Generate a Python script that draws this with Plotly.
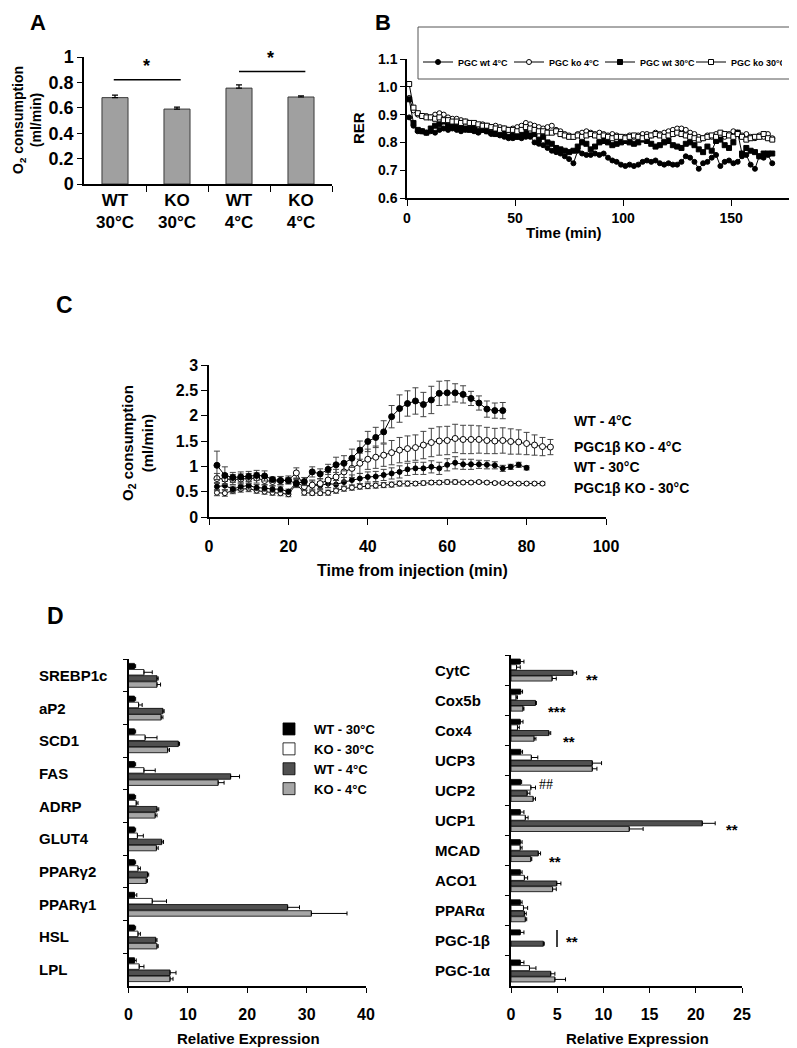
import plotly.graph_objects as go

# page is rendered with an 8px body margin: figure covers page px 8..797 / 8..1048
OFF = 8
FW, FH = 797 - OFF, 1048 - OFF
def fx(px): return (px - OFF) / FW
def fy(py): return 1 - (py - OFF) / FH

FONT = "Liberation Sans, Arial, sans-serif"

# ---------------- Panel A data ----------------
A_groups = ["WT<br>30°C", "KO<br>30°C", "WT<br>4°C", "KO<br>4°C"]
A_values = [0.68, 0.59, 0.755, 0.685]
A_errors = [0.02, 0.015, 0.025, 0.01]

# ---------------- Panel B data ----------------
B_time = list(range(1, 170, 2))
B_wt4 = [0.89, 0.86, 0.84, 0.84, 0.835, 0.84, 0.835, 0.845, 0.85, 0.845,
         0.85, 0.845, 0.84, 0.845, 0.85, 0.84, 0.835, 0.845, 0.84, 0.83,
         0.835, 0.825, 0.82, 0.815, 0.815, 0.82, 0.815, 0.82, 0.82, 0.80,
         0.795, 0.79, 0.78, 0.77, 0.765, 0.76, 0.75, 0.74, 0.725, 0.77,
         0.76, 0.755, 0.755, 0.76, 0.755, 0.76, 0.745, 0.735, 0.73, 0.72,
         0.715, 0.72, 0.715, 0.72, 0.73, 0.735, 0.73, 0.735, 0.725, 0.72,
         0.725, 0.72, 0.72, 0.73, 0.75, 0.745, 0.73, 0.705, 0.725, 0.73,
         0.745, 0.755, 0.715, 0.73, 0.735, 0.725, 0.73, 0.75, 0.755, 0.72,
         0.705, 0.75, 0.745, 0.755, 0.725]
B_ko4 = [0.96, 0.915, 0.90, 0.895, 0.895, 0.89, 0.90, 0.905, 0.90, 0.89,
         0.885, 0.885, 0.88, 0.875, 0.87, 0.865, 0.86, 0.865, 0.86, 0.855,
         0.86, 0.855, 0.85, 0.845, 0.85, 0.855, 0.86, 0.87, 0.865, 0.86,
         0.855, 0.85, 0.855, 0.86, 0.845, 0.84, 0.83, 0.825, 0.82, 0.83,
         0.835, 0.84, 0.835, 0.83, 0.835, 0.83, 0.825, 0.83, 0.825, 0.82,
         0.82, 0.825, 0.82, 0.825, 0.83, 0.83, 0.825, 0.835, 0.83, 0.835,
         0.84, 0.845, 0.85, 0.85, 0.845, 0.835, 0.83, 0.82, 0.815, 0.825,
         0.82, 0.83, 0.825, 0.82, 0.83, 0.84, 0.835, 0.825, 0.83, 0.82,
         0.815, 0.825, 0.82, 0.83, 0.815]
B_wt30 = [0.955, 0.87, 0.845, 0.84, 0.835, 0.85, 0.86, 0.865, 0.875, 0.86,
          0.865, 0.855, 0.855, 0.85, 0.845, 0.85, 0.84, 0.845, 0.84, 0.835,
          0.83, 0.835, 0.83, 0.82, 0.825, 0.82, 0.83, 0.835, 0.825, 0.83,
          0.81, 0.82, 0.80, 0.795, 0.78, 0.775, 0.77, 0.765, 0.77, 0.785,
          0.80, 0.795, 0.775, 0.785, 0.80, 0.805, 0.80, 0.79, 0.795, 0.80,
          0.805, 0.80, 0.795, 0.80, 0.81, 0.805, 0.795, 0.785, 0.79, 0.80,
          0.805, 0.79, 0.785, 0.78, 0.795, 0.80, 0.79, 0.775, 0.765, 0.785,
          0.77, 0.805, 0.81, 0.79, 0.78, 0.80, 0.835, 0.76, 0.78, 0.77,
          0.765, 0.75, 0.76, 0.76, 0.76]
B_ko30 = [1.01, 0.925, 0.905, 0.895, 0.89, 0.89, 0.885, 0.89, 0.88, 0.88,
          0.875, 0.875, 0.87, 0.875, 0.87, 0.87, 0.865, 0.86, 0.86, 0.855,
          0.85, 0.845, 0.85, 0.845, 0.845, 0.84, 0.845, 0.855, 0.85, 0.845,
          0.84, 0.84, 0.835, 0.835, 0.84, 0.83, 0.825, 0.82, 0.82, 0.825,
          0.82, 0.825, 0.83, 0.825, 0.82, 0.825, 0.82, 0.815, 0.82, 0.82,
          0.815, 0.82, 0.825, 0.82, 0.815, 0.82, 0.825, 0.83, 0.825, 0.82,
          0.825, 0.83, 0.835, 0.83, 0.825, 0.82, 0.815, 0.81, 0.815, 0.82,
          0.825, 0.82, 0.835, 0.83, 0.825, 0.82, 0.83, 0.82, 0.81, 0.815,
          0.82, 0.82, 0.83, 0.815, 0.81]

# ---------------- Panel C data ----------------
C_t_wt4 = list(range(2, 75, 2))
C_wt4 = [1.02, 0.82, 0.78, 0.79, 0.80, 0.82, 0.81, 0.74, 0.72, 0.72,
         0.66, 0.70, 0.89, 0.85, 0.94, 1.03, 1.06, 1.16, 1.32, 1.49,
         1.57, 1.68, 1.98, 2.14, 2.24, 2.29, 2.22, 2.31, 2.44, 2.45,
         2.45, 2.42, 2.34, 2.25, 2.13, 2.10, 2.10]
C_wt4_err = [0.28, 0.17, 0.10, 0.10, 0.10, 0.10, 0.10, 0.05, 0.08, 0.06,
             0.08, 0.08, 0.10, 0.10, 0.10, 0.15, 0.15, 0.18, 0.18, 0.20,
             0.20, 0.22, 0.22, 0.27, 0.25, 0.26, 0.24, 0.27, 0.24, 0.24,
             0.18, 0.17, 0.14, 0.14, 0.16, 0.15, 0.16]
C_t_ko4 = list(range(2, 87, 2))
C_ko4 = [0.76, 0.75, 0.74, 0.75, 0.76, 0.77, 0.72, 0.70, 0.72, 0.73,
         0.87, 0.60, 0.63, 0.66, 0.73, 0.79, 0.89, 0.96, 1.06, 1.14,
         1.18, 1.22, 1.27, 1.32, 1.35, 1.37, 1.42, 1.47, 1.50, 1.51,
         1.55, 1.53, 1.53, 1.53, 1.51, 1.50, 1.51, 1.49, 1.48, 1.45,
         1.42, 1.39, 1.38]
C_ko4_err = [0.10, 0.10, 0.10, 0.10, 0.10, 0.10, 0.08, 0.08, 0.08, 0.08,
             0.10, 0.08, 0.10, 0.10, 0.15, 0.15, 0.18, 0.18, 0.20, 0.20,
             0.22, 0.22, 0.24, 0.25, 0.25, 0.25, 0.27, 0.28, 0.28, 0.28,
             0.28, 0.28, 0.28, 0.27, 0.26, 0.25, 0.25, 0.25, 0.24, 0.22,
             0.20, 0.18, 0.15]
C_t_wt30 = list(range(2, 81, 2))
C_wt30 = [0.60, 0.62, 0.55, 0.60, 0.62, 0.58, 0.57, 0.55, 0.55, 0.50,
          0.68, 0.60, 0.63, 0.62, 0.66, 0.64, 0.69, 0.73, 0.76, 0.79,
          0.80, 0.83, 0.86, 0.89, 0.94, 0.96, 0.96, 0.99, 0.96, 1.03,
          1.07, 1.04, 1.04, 1.04, 1.03, 1.02, 0.96, 0.99, 1.03, 0.97]
C_wt30_err = [0.08, 0.08, 0.06, 0.07, 0.07, 0.06, 0.06, 0.06, 0.06, 0.05,
              0.08, 0.07, 0.08, 0.08, 0.08, 0.08, 0.09, 0.10, 0.10, 0.10,
              0.10, 0.11, 0.11, 0.12, 0.12, 0.12, 0.12, 0.12, 0.12, 0.12,
              0.12, 0.10, 0.10, 0.08, 0.08, 0.07, 0.06, 0.05, 0.05, 0.04]
C_t_ko30 = list(range(2, 85, 2))
C_ko30 = [0.48, 0.47, 0.52, 0.55, 0.56, 0.52, 0.50, 0.48, 0.47, 0.45,
          0.65, 0.48, 0.47, 0.47, 0.48, 0.52, 0.56, 0.58, 0.60, 0.61,
          0.62, 0.63, 0.64, 0.66, 0.66, 0.66, 0.67, 0.68, 0.68, 0.69,
          0.69, 0.68, 0.68, 0.69, 0.68, 0.67, 0.67, 0.66, 0.66, 0.66,
          0.66, 0.66]
C_ko30_err = [0.06, 0.06, 0.06, 0.06, 0.06, 0.05, 0.05, 0.05, 0.05, 0.05,
              0.06, 0.05, 0.04, 0.04, 0.05, 0.05, 0.05, 0.05, 0.05, 0.05,
              0.05, 0.05, 0.05, 0.05, 0.05, 0.04, 0.04, 0.04, 0.04, 0.04,
              0.04, 0.03, 0.03, 0.03, 0.03, 0.03, 0.03, 0.03, 0.03, 0.03,
              0.03, 0.03]

# ---------------- Panel D data ----------------
D_groups = ["WT - 30°C", "KO - 30°C", "WT - 4°C", "KO - 4°C"]
D_colors = ["#000000", "#ffffff", "#505050", "#a6a6a6"]

DL_genes = ["SREBP1c", "aP2", "SCD1", "FAS", "ADRP", "GLUT4", "PPARγ2", "PPARγ1", "HSL", "LPL"]
DL_wt30 = [1.0, 1.0, 1.0, 1.0, 1.0, 1.0, 1.0, 1.0, 1.0, 1.0]
DL_wt30_err = [0.2, 0.2, 0.2, 0.2, 0.2, 0.2, 0.2, 0.4, 0.2, 0.3]
DL_ko30 = [2.6, 1.7, 2.8, 2.6, 1.3, 1.5, 1.6, 4.0, 1.6, 1.8]
DL_ko30_err = [1.4, 0.6, 2.0, 1.9, 0.3, 1.0, 0.4, 2.4, 0.4, 0.8]
DL_wt4 = [4.8, 5.8, 8.4, 17.2, 4.8, 5.6, 3.2, 26.8, 4.6, 7.0]
DL_wt4_err = [0.2, 0.2, 0.2, 1.5, 0.3, 0.3, 0.2, 2.0, 0.2, 1.0]
DL_ko4 = [4.8, 5.5, 6.6, 15.1, 4.5, 4.7, 3.0, 30.8, 4.8, 7.0]
DL_ko4_err = [0.6, 0.3, 0.3, 1.0, 0.3, 0.3, 0.2, 6.0, 0.2, 0.5]

DR_genes = ["CytC", "Cox5b", "Cox4", "UCP3", "UCP2", "UCP1", "MCAD", "ACO1", "PPARα", "PGC-1β", "PGC-1α"]
DR_wt30 = [1.0, 1.05, 1.0, 1.05, 1.05, 1.0, 1.0, 1.0, 1.0, 1.0, 1.0]
DR_wt30_err = [0.4, 0.2, 0.3, 0.2, 0.1, 0.4, 0.2, 0.2, 0.2, 0.4, 0.4]
DR_ko30 = [0.6, 0.55, 0.7, 2.2, 2.15, 1.55, 1.0, 1.45, 1.35, None, 2.0]
DR_ko30_err = [0.4, 0.15, 0.2, 0.7, 0.5, 0.3, 0.2, 0.35, 0.45, None, 0.7]
DR_wt4 = [6.7, 2.65, 4.1, 8.8, 1.75, 20.7, 2.95, 4.95, 1.45, 3.5, 4.3]
DR_wt4_err = [0.4, 0.1, 0.2, 1.0, 0.3, 1.4, 0.25, 0.45, 0.2, 0.1, 0.45]
DR_ko4 = [4.45, 1.3, 2.5, 8.8, 2.4, 12.8, 2.15, 4.5, 1.55, None, 4.75]
DR_ko4_err = [0.45, 0.1, 0.2, 0.5, 0.25, 1.5, 0.1, 0.4, 0.15, None, 1.15]

fig = go.Figure()

# ---------- Panel A ----------
fig.add_trace(go.Bar(
    x=list(range(len(A_values))), y=A_values, width=0.42,
    marker=dict(color="#a0a0a0", line=dict(color="#3a3a3a", width=1)),
    error_y=dict(type="data", array=A_errors, arrayminus=[0] * len(A_errors),
                 symmetric=False, color="black", thickness=1.2, width=3),
    xaxis="x", yaxis="y", showlegend=False))

# ---------- Panel B ----------
B_series = [
    ("PGC wt 4°C", B_wt4, "circle", "black"),
    ("PGC ko 4°C", B_ko4, "circle", "white"),
    ("PGC wt 30°C", B_wt30, "square", "black"),
    ("PGC ko 30°C", B_ko30, "square", "white"),
]
for name, vals, sym, col in B_series:
    fig.add_trace(go.Scatter(
        x=B_time, y=vals, name=name, mode="lines+markers",
        line=dict(color="black", width=1),
        marker=dict(symbol=sym, size=5, color=col, line=dict(color="black", width=1)),
        xaxis="x2", yaxis="y2", legend="legend"))

# ---------- Panel C ----------
C_series = [
    (C_t_ko30, C_ko30, C_ko30_err, 5, "white"),
    (C_t_wt30, C_wt30, C_wt30_err, 5, "black"),
    (C_t_ko4, C_ko4, C_ko4_err, 6, "white"),
    (C_t_wt4, C_wt4, C_wt4_err, 6, "black"),
]
for t, vals, errs, sz, col in C_series:
    fig.add_trace(go.Scatter(
        x=t, y=vals, mode="lines+markers",
        line=dict(color="black", width=1),
        marker=dict(symbol="circle", size=sz, color=col, line=dict(color="black", width=1)),
        error_y=dict(type="data", array=errs, color="#444444", thickness=1, width=3),
        xaxis="x3", yaxis="y3", showlegend=False))

# ---------- Panel D ----------
DL_sets = [(DL_wt30, DL_wt30_err), (DL_ko30, DL_ko30_err), (DL_wt4, DL_wt4_err), (DL_ko4, DL_ko4_err)]
DR_sets = [(DR_wt30, DR_wt30_err), (DR_ko30, DR_ko30_err), (DR_wt4, DR_wt4_err), (DR_ko4, DR_ko4_err)]
for i, (g, c) in enumerate(zip(D_groups, D_colors)):
    v, e = DL_sets[i]
    fig.add_trace(go.Bar(
        y=DL_genes, x=v, orientation="h", name=g,
        marker=dict(color=c, line=dict(color="black", width=0.8)),
        error_x=dict(type="data", array=e, arrayminus=[0] * len(e), symmetric=False,
                     color="black", thickness=1, width=2),
        xaxis="x4", yaxis="y4", legend="legend2", legendgroup=g, showlegend=True))
    v, e = DR_sets[i]
    fig.add_trace(go.Bar(
        y=DR_genes, x=v, orientation="h", name=g,
        marker=dict(color=c, line=dict(color="black", width=0.8)),
        error_x=dict(type="data", array=e, arrayminus=[0] * len(e), symmetric=False,
                     color="black", thickness=1, width=2),
        xaxis="x5", yaxis="y5", legendgroup=g, showlegend=False))

axis_common = dict(showline=True, linecolor="black", linewidth=1.5, showgrid=False,
                   zeroline=False, ticks="outside", tickcolor="black", tickwidth=1.2,
                   automargin=False,
                   tickfont=dict(family=FONT, size=16, color="black", weight="bold"))

fig.update_layout(
    width=FW, height=FH, margin=dict(l=0, r=0, t=0, b=0, autoexpand=False),
    paper_bgcolor="white", plot_bgcolor="rgba(0,0,0,0)",
    font=dict(family=FONT, color="black"),
    bargap=0.25, bargroupgap=0.1, barmode="group",
    xaxis=dict(axis_common, domain=[fx(84), fx(332)], range=[-0.5, 3.5], anchor="y",
               tickmode="array", tickvals=list(range(len(A_groups))), ticktext=A_groups,
               ticks="", ticklen=0,
               minor=dict(tickmode="array", tickvals=[0.5, 1.5, 2.5, 3.5], ticks="outside",
                          ticklen=6, tickcolor="black", tickwidth=1.2),
               tickfont=dict(family=FONT, size=17, color="black", weight="bold")),
    yaxis=dict(axis_common, domain=[fy(184), fy(57)], range=[0, 1], anchor="x",
               tickvals=[0, 0.2, 0.4, 0.6, 0.8, 1], ticktext=["0", "0.2", "0.4", "0.6", "0.8", "1"],
               ticklen=5, tickfont=dict(family=FONT, size=18, color="black", weight="bold")),
    xaxis2=dict(axis_common, domain=[fx(407), fx(793)], range=[0, 178.6], anchor="y2",
                tickvals=[0, 50, 100, 150], ticklen=6,
                tickfont=dict(family=FONT, size=14, color="black", weight="bold")),
    yaxis2=dict(axis_common, domain=[fy(198), fy(59)], range=[0.6, 1.1], anchor="x2",
                dtick=0.1, tickformat=".1f", ticklen=5,
                tickfont=dict(family=FONT, size=14, color="black", weight="bold")),
    xaxis3=dict(axis_common, domain=[fx(209), fx(606)], range=[0, 100], anchor="y3",
                dtick=20, ticklen=6, ticklabelstandoff=8),
    yaxis3=dict(axis_common, domain=[fy(517), fy(365)], range=[0, 3], anchor="x3",
                dtick=0.5, ticklen=6),
    xaxis4=dict(axis_common, domain=[fx(128.5), fx(366)], range=[0, 40], anchor="y4",
                dtick=10, ticklen=5, ticklabelstandoff=8),
    yaxis4=dict(axis_common, domain=[fy(986), fy(659)], anchor="x4", type="category",
                categoryorder="array", categoryarray=DL_genes, range=[len(DL_genes) - 0.5, -0.5],
                tickson="boundaries", ticklen=4, showticklabels=False),
    xaxis5=dict(axis_common, domain=[fx(511), fx(742)], range=[0, 25], anchor="y5",
                dtick=5, ticklen=5, ticklabelstandoff=8),
    yaxis5=dict(axis_common, domain=[fy(986), fy(655)], anchor="x5", type="category",
                categoryorder="array", categoryarray=DR_genes, range=[len(DR_genes) - 0.5, -0.5],
                tickson="boundaries", ticklen=4, showticklabels=False),
    legend=dict(x=fx(418), y=fy(62), xanchor="left", yanchor="middle", orientation="h",
                font=dict(family=FONT, size=9, color="black", weight="bold"),
                itemwidth=30, entrywidth=46, entrywidthmode="pixels",
                bgcolor="rgba(0,0,0,0)", traceorder="normal"),
    legend2=dict(x=fx(264), y=fy(714), xanchor="left", yanchor="top", orientation="v",
                 font=dict(family=FONT, size=13, color="black", weight="bold"),
                 itemwidth=40, bgcolor="rgba(0,0,0,0)", traceorder="normal", tracegroupgap=4),
)

# legend box of panel B
fig.add_shape(type="rect", xref="paper", yref="paper", x0=fx(418), x1=fx(793), y0=fy(79), y1=fy(27),
              line=dict(color="#555555", width=1))

annots = []
def txt(text, x, y, size, angle=0, xanchor="center", yanchor="middle", family=FONT, bold=True,
        xref="paper", yref="paper"):
    annots.append(dict(text=text, x=x, y=y, xref=xref, yref=yref, showarrow=False,
                       xanchor=xanchor, yanchor=yanchor, textangle=angle,
                       font=dict(family=family, size=size, color="black",
                                 weight="bold" if bold else "normal")))

# panel letters
txt("A", fx(38), 1, 22, yanchor="top")
txt("B", fx(383), 1, 22, yanchor="top")
txt("C", fx(65), fy(305), 23)
txt("D", fx(55), fy(616), 23)

# axis titles
txt("O<sub>2</sub> consumption<br>(ml/min)", fx(27), fy(120), 14, angle=-90)
txt("RER", fx(358), fy(128), 15, angle=-90)
txt("Time (min)", fx(564), fy(232), 15)
txt("O<sub>2</sub> consumption<br>(ml/min)", fx(137), fy(443), 15, angle=-90)
txt("Time from injection (min)", fx(413), fy(570), 16)
txt("Relative Expression", fx(248), fy(1038), 15)
txt("Relative Expression", fx(637), fy(1038), 15)

# panel A significance
fig.add_shape(type="line", xref="x", yref="y", x0=-0.02, x1=1.06, y0=0.82, y1=0.82,
              line=dict(color="black", width=1.5))
fig.add_shape(type="line", xref="x", yref="y", x0=2.0, x1=3.07, y0=0.885, y1=0.885,
              line=dict(color="black", width=1.5))
txt("*", 0.5, 0.93, 18, xref="x", yref="y")
txt("*", 2.5, 0.99, 18, xref="x", yref="y")

# panel C labels
for lab, py in [("WT - 4°C", 421), ("PGC1β KO - 4°C", 447), ("WT - 30°C", 467), ("PGC1β KO - 30°C", 488)]:
    txt(lab, fx(572), fy(py), 14, xanchor="left")

# panel D category labels
for g in DL_genes:
    txt(g, fx(37), g, 15, xanchor="left", yref="y4")
for g in DR_genes:
    txt(g, fx(433), g, 15, xanchor="left", yref="y5")

# panel D significance marks
for s, px, py in [("**", 592, 679), ("***", 557, 711), ("**", 569, 741), ("**", 732, 829), ("**", 555, 861), ("**", 572, 941)]:
    txt(s, fx(px), fy(py), 15)
txt("##", fx(546), fy(784), 14, family="Liberation Serif, Times New Roman, serif", bold=False)
fig.add_shape(type="line", xref="paper", yref="paper", x0=fx(557), x1=fx(557), y0=fy(947), y1=fy(930),
              line=dict(color="black", width=1.5))

fig.update_layout(annotations=annots)
fig.write_html("out.html")
